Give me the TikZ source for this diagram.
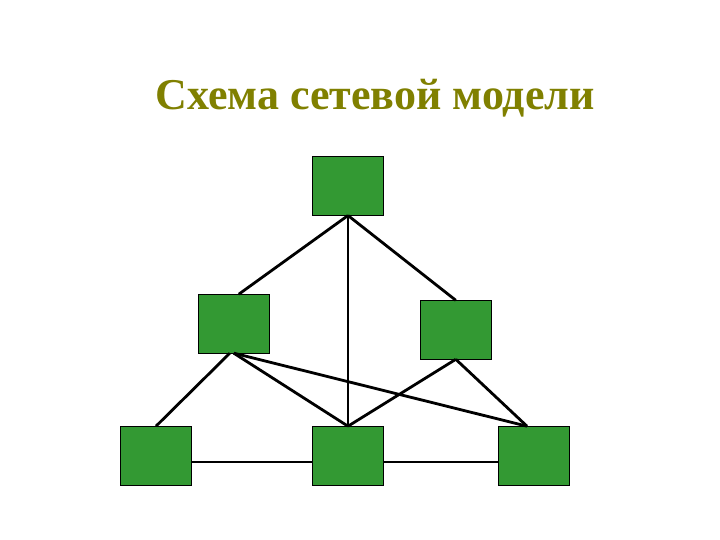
\documentclass[tikz,border=0pt]{standalone}
\usepackage{fontspec}
\setmainfont{Liberation Serif}
\usetikzlibrary{calc}
\definecolor{boxgreen}{HTML}{339933}
\definecolor{titleolive}{HTML}{808000}
\begin{document}
\begin{tikzpicture}[x=1pt,y=-1pt,
  netbox/.style={draw=black,line width=0.8pt,fill=boxgreen,minimum width=71pt,minimum height=59pt,inner sep=0pt,outer sep=0pt},
  link/.style={draw=black,line width=2.8pt},
  hlink/.style={draw=black,line width=2.3pt}]
\useasboundingbox[fill=white] (0,0) rectangle (720,540);
\node[font=\bfseries\fontsize{44}{50}\selectfont,text=titleolive,anchor=base] (title) at (375,110) {Схема сетевой модели};
\node[netbox] (top) at (348,186) {};
\node[netbox] (ml) at (233.8,323.7) {};
\node[netbox] (mr) at (455.8,329.8) {};
\node[netbox] (bl) at (156,455.7) {};
\node[netbox] (bm) at (348,455.7) {};
\node[netbox] (br) at (534,455.7) {};
\draw[link] (top.south) -- ($(ml.north)+(5,0)$);
\draw[link] (top.south) -- (mr.north);
\draw[hlink] (top.south) -- (bm.north);
\draw[link] ($(ml.south)+(-4,0)$) -- (bl.north);
\draw[link] (ml.south) -- (bm.north);
\draw[link] (ml.south) -- ($(br.north)+(-7,0)$);
\draw[link] (mr.south) -- (bm.north);
\draw[link] (mr.south) -- ($(br.north)+(-7,0)$);
\draw[hlink] ($(bl.east)+(0,6)$) -- ($(bm.west)+(0,6)$);
\draw[hlink] ($(bm.east)+(0,6)$) -- ($(br.west)+(0,6)$);
\end{tikzpicture}
\end{document}
